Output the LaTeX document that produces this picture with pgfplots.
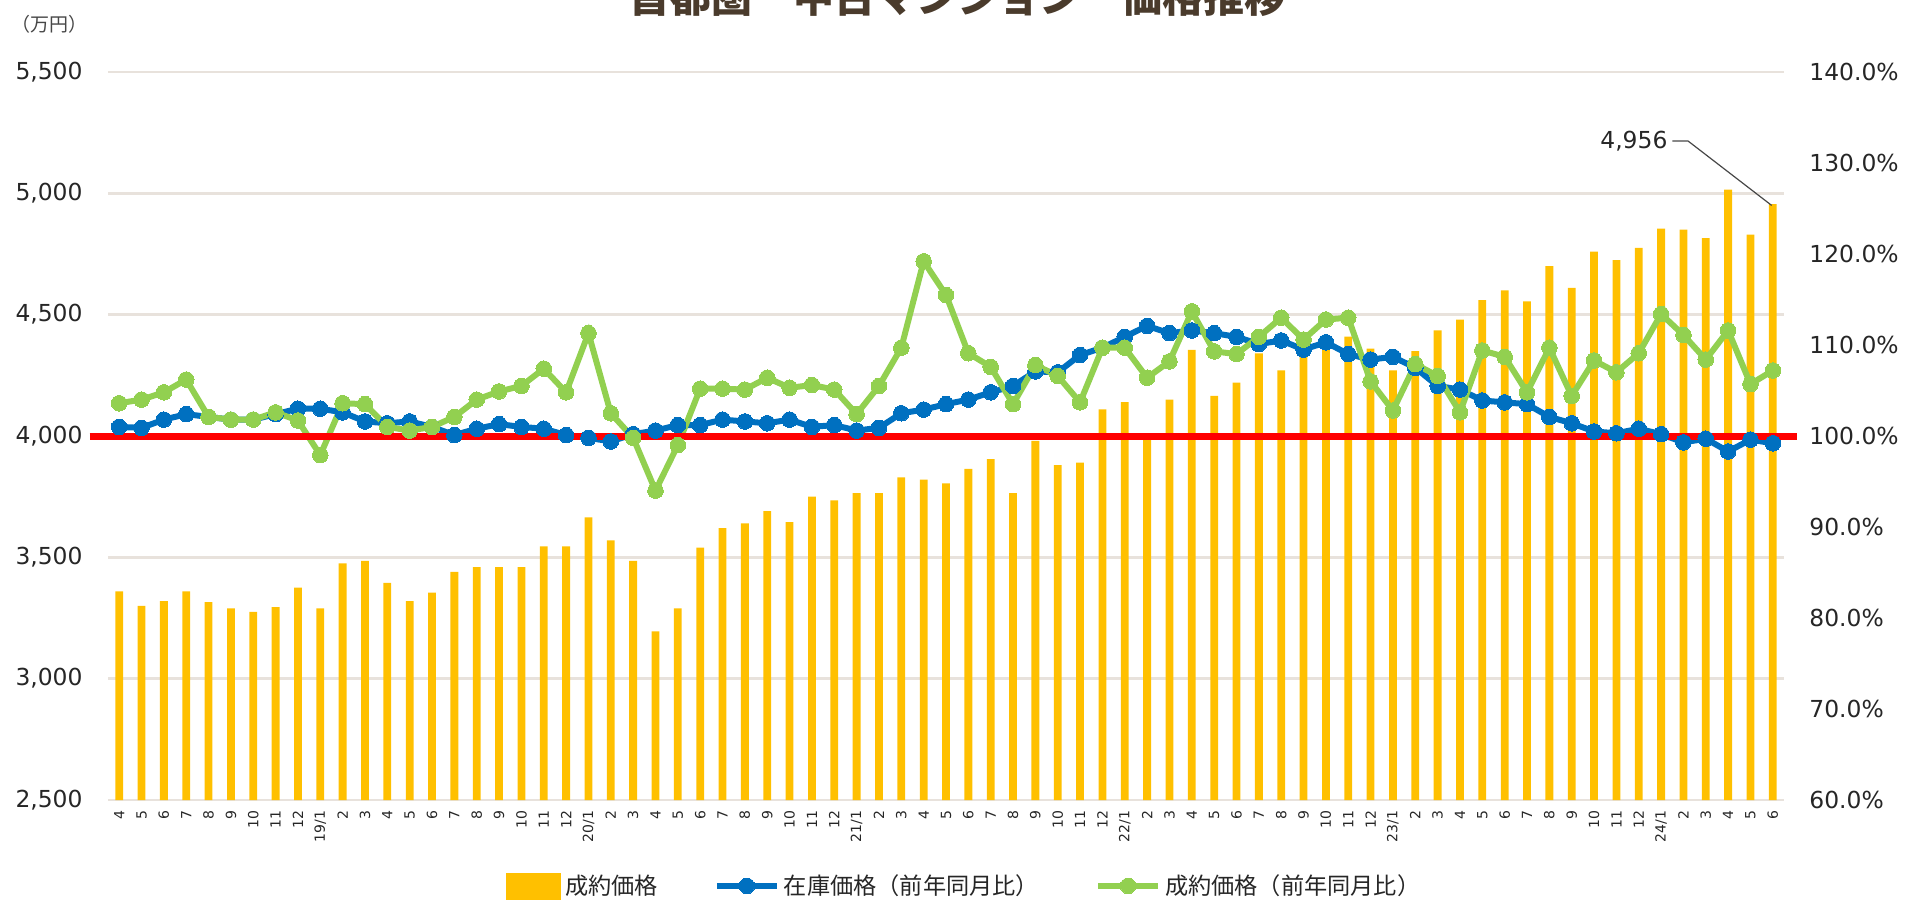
\documentclass[border=0pt]{standalone}
\usepackage{fontspec}
\setmainfont{DejaVu Sans}
\newfontfamily\jp{Noto Sans CJK JP}
\usepackage{pgfplots}
\usepackage{pgfplotstable}
\pgfplotsset{compat=1.18}
\definecolor{barcol}{HTML}{FFC000}
\definecolor{bluecol}{HTML}{0070C0}
\definecolor{greencol}{HTML}{92D050}
\definecolor{gridcol}{HTML}{E8E2DC}
\definecolor{txt}{HTML}{262626}
\definecolor{titlecol}{HTML}{4A3B2C}

\pgfplotstableread{
idx price zaiko seiyaku
0 3360 101.0 103.6
1 3300 100.9 104.0
2 3320 101.8 104.8
3 3360 102.4 106.2
4 3315 102.1 102.1
5 3290 101.8 101.8
6 3275 101.8 101.8
7 3295 102.4 102.6
8 3375 103.0 101.7
9 3290 103.0 97.9
10 3475 102.6 103.6
11 3485 101.6 103.5
12 3395 101.4 101.0
13 3320 101.6 100.6
14 3355 101.0 101.0
15 3440 100.1 102.1
16 3460 100.8 104.0
17 3460 101.3 104.9
18 3460 101.0 105.5
19 3545 100.8 107.4
20 3545 100.1 104.8
21 3665 99.8 111.3
22 3570 99.4 102.5
23 3485 100.2 99.8
24 3195 100.6 94.0
25 3290 101.2 99.0
26 3540 101.2 105.2
27 3620 101.8 105.2
28 3640 101.6 105.1
29 3690 101.4 106.4
30 3645 101.8 105.3
31 3750 101.0 105.6
32 3735 101.2 105.1
33 3765 100.6 102.4
34 3765 100.9 105.5
35 3830 102.5 109.7
36 3820 102.9 119.2
37 3805 103.5 115.5
38 3865 104.0 109.1
39 3905 104.8 107.6
40 3765 105.5 103.5
41 3980 107.1 107.8
42 3880 107.0 106.6
43 3890 108.9 103.7
44 4110 109.7 109.7
45 4140 110.9 109.7
46 3990 112.1 106.4
47 4150 111.3 108.2
48 4355 111.6 113.7
49 4165 111.3 109.3
50 4220 110.9 109.0
51 4340 110.1 110.9
52 4270 110.5 113.0
53 4340 109.5 110.6
54 4370 110.3 112.8
55 4410 109.0 113.0
56 4360 108.4 106.0
57 4270 108.7 102.8
58 4350 107.5 107.9
59 4435 105.5 106.6
60 4480 105.1 102.6
61 4560 103.9 109.4
62 4600 103.7 108.7
63 4555 103.5 104.8
64 4700 102.1 109.7
65 4610 101.4 104.4
66 4760 100.5 108.3
67 4725 100.3 107.0
68 4775 100.8 109.1
69 4855 100.2 113.4
70 4850 99.3 111.1
71 4815 99.7 108.4
72 5015 98.3 111.6
73 4830 99.6 105.7
74 4956 99.2 107.2
}\datatable

\pgfplotsset{
  base/.style={
    scale only axis, width=838pt, height=364pt,
    at={(54pt,53pt)}, anchor=south west,
    xmin=-0.5, xmax=74.5,
    /pgf/number format/assume math mode=true,
    major tick length=0pt, tick style={draw=none},
    axis line style={draw=none},
    ticklabel style={font=\fontsize{11.7}{13}\selectfont, text=txt},
  },
  mylinelegend/.style={legend image code/.code={\draw[mark repeat=2,mark phase=2,##1] plot coordinates {(0pt,0pt) (15pt,0pt) (30pt,0pt)};}},
}

\begin{document}
\begin{tikzpicture}
\path[use as bounding box] (0pt,0pt) rectangle (960.5pt,453pt);

\begin{axis}[base,
  ymin=2500, ymax=5500, ytick={2500,3000,...,5500},
  ymajorgrids, grid style={gridcol, line width=1.2pt},
  yticklabel style={/pgf/number format/1000 sep={,}, xshift=-9.2pt},
  xtick={0,...,74},
  xticklabels={4,5,6,7,8,9,10,11,12,19/1,2,3,4,5,6,7,8,9,10,11,12,20/1,2,3,4,5,6,7,8,9,10,11,12,21/1,2,3,4,5,6,7,8,9,10,11,12,22/1,2,3,4,5,6,7,8,9,10,11,12,23/1,2,3,4,5,6,7,8,9,10,11,12,24/1,2,3,4,5,6},
  xticklabel style={rotate=90, anchor=east, font=\fontsize{7}{8}\selectfont},
  xticklabel shift=2pt,
  ybar, bar width=3.9pt,
]
\addplot[fill=barcol, draw=none] table[x=idx,y=price]{\datatable};
\node[anchor=east, font=\fontsize{11.7}{13}\selectfont, text=txt, inner sep=0pt] at (axis cs:69.3,5216) {4,956};
\draw[txt!85, line width=0.6pt] (axis cs:69.5,5216) -- (axis cs:70.2,5216) -- (axis cs:73.95,4950);
\end{axis}

\begin{axis}[base,
  ymin=60, ymax=140, ytick={60,70,...,140},
  axis y line*=right, axis x line=none, clip=false,
  yticklabel={\pgfmathprintnumber[fixed,fixed zerofill,precision=1]{\tick}\%},
  yticklabel style={xshift=9.2pt},
  legend style={at={(0.5115,-0.118)}, anchor=center, draw=none, fill=none,
    legend columns=3, font=\jp\fontsize{11.6}{13}\selectfont, text=txt,
    /tikz/every even column/.append style={column sep=26pt},
    /tikz/column 2/.style={column sep=18pt}},
  legend cell align=left,
]
\addlegendimage{legend image code/.code={\fill[barcol] (0pt,-6.5pt) rectangle (27pt,6.5pt);}}
\addlegendentry{成約価格}
\addplot[mylinelegend, bluecol, line width=3pt, mark=*, mark size=3.9pt, mark options={fill=bluecol, draw=bluecol, line width=0pt}] table[x=idx,y=zaiko]{\datatable};
\addlegendentry{在庫価格（前年同月比）}
\addplot[mylinelegend, greencol, line width=3pt, mark=*, mark size=3.9pt, mark options={fill=greencol, draw=greencol, line width=0pt}] table[x=idx,y=seiyaku]{\datatable};
\addlegendentry{成約価格（前年同月比）}
\addplot[red, line width=3.5pt, forget plot] coordinates {(-1.32,100) (75.1,100)};
\end{axis}

\node[font=\jp\fontsize{9.5}{11}\selectfont, text=txt!85] at (24.5pt,440.75pt) {（万円）};
\node[anchor=base, font=\jp\bfseries\fontsize{20.5}{24}\selectfont, text=titlecol] at (478.5pt,446.5pt) {首都圏　中古マンション　価格推移};
\end{tikzpicture}
\end{document}
